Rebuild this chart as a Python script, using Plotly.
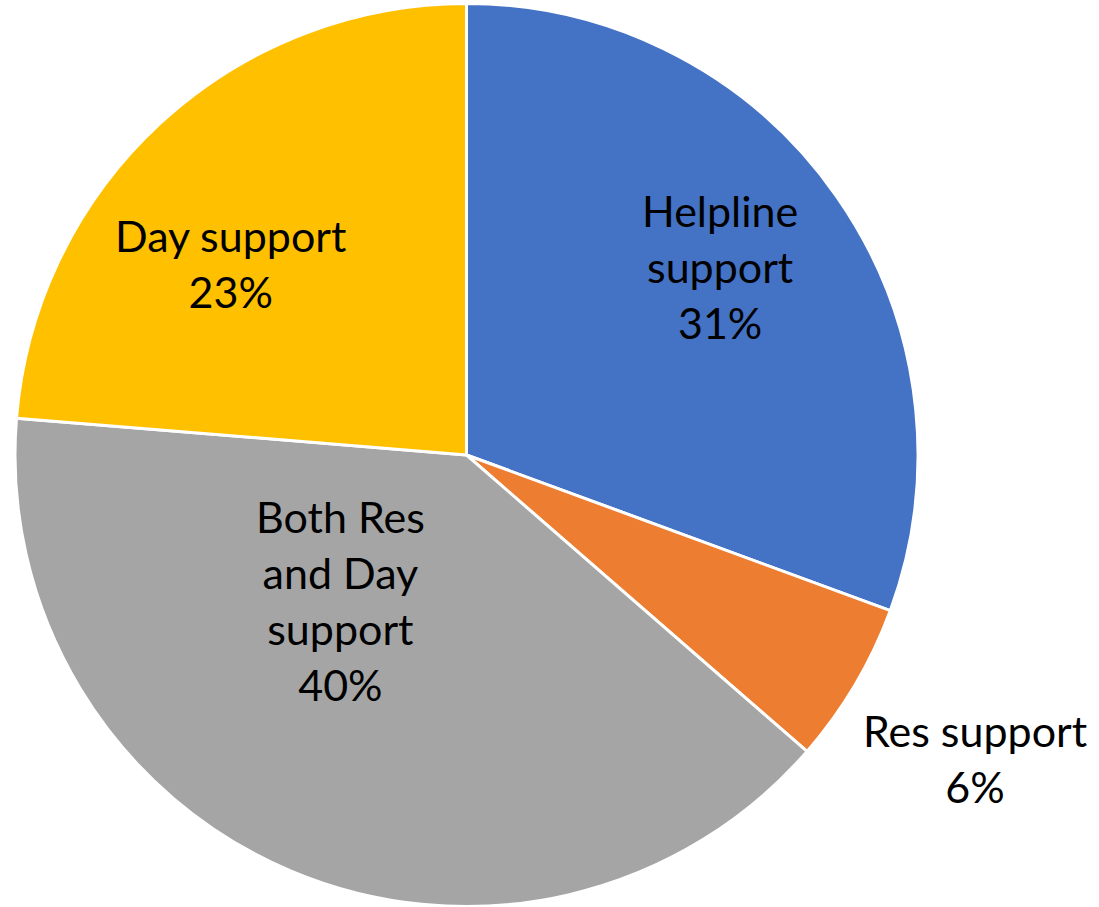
import plotly.graph_objects as go

labels = ["Helpline<br>support", "Res support", "Both Res<br>and Day<br>support", "Day support"]
values = [30.6, 5.8, 39.9, 23.7]
pct_text = ["31%", "6%", "40%", "23%"]
colors = ["#4472C4", "#ED7D31", "#A5A5A5", "#FFC000"]
# label centres in pixels (as placed in the original chart)
label_px = [(720, 266), (975, 758), (340, 600), (230, 263)]

W, H = 1099, 907
ML, MR, MT, MB = 15, 181, 3, 0

fig = go.Figure(go.Pie(
    labels=labels,
    values=values,
    textinfo="none",
    sort=False,
    direction="clockwise",
    rotation=0,
    marker=dict(colors=colors, line=dict(color="white", width=3)),
    showlegend=False,
    hoverinfo="label+percent",
))

pw, ph = W - ML - MR, H - MT - MB
for lab, pct, (px, py) in zip(labels, pct_text, label_px):
    fig.add_annotation(
        x=(px - ML) / pw, y=1 - (py - MT) / ph,
        xref="paper", yref="paper",
        text=f"{lab}<br>{pct}",
        showarrow=False,
        xanchor="center", yanchor="middle",
        align="center",
        font=dict(family="Lato", size=43, color="black"),
    )

fig.update_layout(
    width=W, height=H,
    margin=dict(l=ML, r=MR, t=MT, b=MB),
    paper_bgcolor="white",
    plot_bgcolor="white",
    showlegend=False,
)

fig.write_html("out.html")
